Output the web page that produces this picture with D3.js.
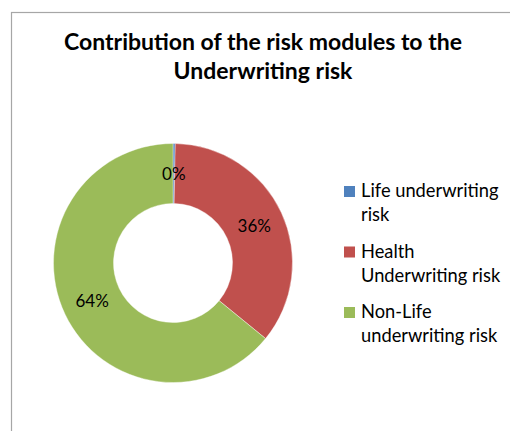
<!DOCTYPE html>
<html>
<head>
<meta charset="utf-8">
<script src="https://cdn.jsdelivr.net/npm/d3@7"></script>
<style>
  body { margin: 0; background: #fff; }
  svg { display: block; font-family: Lato, "Open Sans", sans-serif; }
</style>
</head>
<body>
<div id="chart"></div>
<script>
const categories = ['Life underwriting risk', 'Health Underwriting risk', 'Non-Life underwriting risk'];
const legendLines = [['Life underwriting', 'risk'], ['Health', 'Underwriting risk'], ['Non-Life', 'underwriting risk']];
const values = [0.3, 35.6, 64.1];
const colors = ['#4f81bd', '#c0504d', '#9bbb59'];
const titleLines = ['Contribution of the risk modules to the', 'Underwriting risk'];

const w = 510;
const h = 431;
const cx = 173, cy = 263;
const outerR = 119.5, innerR = 59.5;

const svg = d3.select('#chart').append('svg').attr('width', w).attr('height', h);

// chart area frame (cut off at right and bottom)
svg.append('rect')
    .attr('x', 11.5).attr('y', 12.5)
    .attr('width', w + 10).attr('height', h + 10)
    .attr('fill', 'none').attr('stroke', '#a6a6a6').attr('stroke-width', 1.2);

svg.append('g').selectAll('text')
    .data(titleLines)
    .enter()
    .append('text')
    .attr('x', 263)
    .attr('y', (d, i) => 50 + i * 29)
    .attr('text-anchor', 'middle')
    .attr('font-size', 23)
    .attr('font-weight', 'bold')
    .attr('fill', '#000')
    .text(d => d);

const pie = d3.pie().sort(null).value(d => d);
const arcs = pie(values);
const arc = d3.arc().innerRadius(innerR).outerRadius(outerR);
const labelArc = d3.arc().innerRadius((innerR + outerR) / 2).outerRadius((innerR + outerR) / 2);

const g = svg.append('g').attr('transform', 'translate(' + cx + ',' + cy + ')');
g.selectAll('path')
    .data(arcs)
    .enter()
    .append('path')
    .attr('d', arc)
    .attr('fill', (d, i) => colors[i])
    .attr('stroke', '#fff')
    .attr('stroke-width', 0.4);

g.selectAll('text')
    .data(arcs)
    .enter()
    .append('text')
    .attr('transform', d => 'translate(' + labelArc.centroid(d) + ')')
    .attr('text-anchor', 'middle')
    .attr('dy', '0.36em')
    .attr('font-size', 17)
    .attr('fill', '#000')
    .text(d => Math.round(d.data) + '%');

const legend = svg.append('g').attr('transform', 'translate(344,186)');
const item = legend.selectAll('g')
    .data(categories)
    .enter()
    .append('g')
    .attr('transform', (d, i) => 'translate(0,' + (i * 60.5) + ')');
item.append('rect')
    .attr('width', 11).attr('height', 11)
    .attr('fill', (d, i) => colors[i]);
item.append('text')
    .attr('x', 17)
    .attr('y', 11)
    .attr('font-size', 18.3)
    .attr('fill', '#000')
    .selectAll('tspan')
    .data((d, i) => legendLines[i])
    .enter()
    .append('tspan')
    .attr('x', 17)
    .attr('dy', (d, j) => j === 0 ? 0 : 24)
    .text(d => d);
</script>
</body>
</html>
